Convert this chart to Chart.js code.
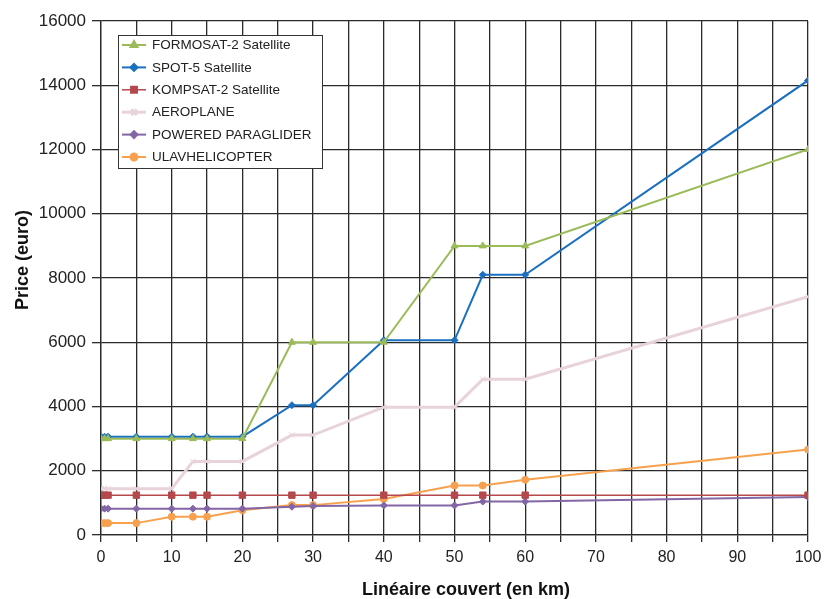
<!DOCTYPE html>
<html>
<head>
<meta charset="utf-8">
<script src="https://cdn.jsdelivr.net/npm/chart.js@4/dist/chart.umd.min.js"></script>
<style>
  body { margin: 0; background: #fff; }
  canvas { display: block; }
</style>
</head>
<body>
<canvas id="chart" width="825" height="599"></canvas>
<script>
// Distance covered (km) shared by every series
const km = [0, 0.5, 1, 5, 10, 13, 15, 20, 27, 30, 40, 50, 54, 60, 100];

// Prices in euro
const formosat = [3000, 3000, 3000, 3000, 3000, 3000, 3000, 3000, 6000, 6000, 6000, 9000, 9000, 9000, 12000];
const spot = [3060, 3060, 3060, 3060, 3060, 3060, 3060, 3060, 4040, 4040, 6060, 6060, 8100, 8100, 14150];
const kompsat = [1240, 1240, 1240, 1240, 1240, 1240, 1240, 1240, 1240, 1240, 1240, 1240, 1240, 1240, 1240];
const aeroplane = [1440, 1440, 1440, 1440, 1440, 2290, 2290, 2290, 3110, 3110, 3980, 3980, 4850, 4850, 7420];
const paraglider = [820, 820, 820, 820, 820, 820, 820, 820, 880, 900, 920, 920, 1040, 1040, 1180];
const ulav = [370, 370, 370, 370, 570, 570, 570, 770, 930, 930, 1120, 1540, 1540, 1720, 2660];

const seriesNames = ["FORMOSAT-2 Satellite", "SPOT-5 Satellite", "KOMPSAT-2 Satellite", "AEROPLANE", "POWERED PARAGLIDER", "ULAVHELICOPTER"];
const yTicks = [0, 2000, 4000, 6000, 8000, 10000, 12000, 14000, 16000];
const xTitle = "Linéaire couvert (en km)";
const yTitle = "Price (euro)";

const FONT = "'Liberation Sans', Arial, sans-serif";

function pts(values) {
  return km.map((x, i) => ({ x: x, y: values[i] }));
}

function series(label, values, color, style, radius, width) {
  return {
    label: label,
    data: pts(values),
    borderColor: color,
    backgroundColor: color,
    borderWidth: width,
    pointStyle: style,
    pointRadius: radius,
    pointBorderWidth: 1,
    pointHoverRadius: radius,
    tension: 0
  };
}

// draws the boxed legend inside the plot and the two axis titles
const decorations = {
  id: "decorations",
  afterDatasetsDraw(chart) {
    const ctx = chart.ctx;
    const area = chart.chartArea;
    const x0 = area.left + 17, y0 = area.top + 14;
    ctx.save();
    ctx.fillStyle = "#fff";
    ctx.fillRect(x0, y0, 204, 133);
    ctx.strokeStyle = "#333";
    ctx.lineWidth = 1;
    ctx.strokeRect(x0 + 0.5, y0 + 0.5, 204, 133);

    ctx.font = "13.5px " + FONT;
    ctx.textBaseline = "middle";
    chart.data.datasets.forEach((ds, i) => {
      const y = y0 + 10 + i * 22.4;
      ctx.strokeStyle = ds.borderColor;
      ctx.lineWidth = ds.borderWidth;
      ctx.beginPath();
      ctx.moveTo(x0 + 4, y);
      ctx.lineTo(x0 + 28, y);
      ctx.stroke();
      ctx.fillStyle = ds.backgroundColor;
      Chart.helpers.drawPoint(ctx, {
        pointStyle: ds.pointStyle,
        radius: ds.pointRadius,
        rotation: 0,
        borderWidth: 1
      }, x0 + 16, y);
      ctx.fillStyle = "#222";
      ctx.fillText(ds.label, x0 + 34, y + 0.5);
    });

    // axis titles
    ctx.fillStyle = "#111";
    ctx.font = "bold 18px " + FONT;
    ctx.textAlign = "center";
    ctx.textBaseline = "alphabetic";
    ctx.fillText(xTitle, 466, 595);
    ctx.translate(28, 260);
    ctx.rotate(-Math.PI / 2);
    ctx.fillText(yTitle, 0, 0);
    ctx.restore();
  }
};

const gridColor = "#2a2a2a";

new Chart(document.getElementById("chart"), {
  type: "line",
  data: {
    datasets: [
      series(seriesNames[0], formosat, "#9bbb59", "triangle", 4, 2),
      series(seriesNames[1], spot, "#1a6fc0", "rectRot", 3.5, 2),
      series(seriesNames[2], kompsat, "#b5484c", "rect", 4.5, 1.5),
      series(seriesNames[3], aeroplane, "#e9d3da", "crossRot", 4, 3),
      series(seriesNames[4], paraglider, "#8366a6", "rectRot", 3.5, 2),
      series(seriesNames[5], ulav, "#f7a04e", "circle", 3.5, 2)
    ]
  },
  options: {
    responsive: false,
    animation: false,
    layout: { padding: { top: 21, right: 17, left: 0, bottom: 0 } },
    plugins: {
      legend: { display: false },
      tooltip: { enabled: false }
    },
    scales: {
      x: {
        type: "linear",
        min: 0,
        max: 100,
        afterFit: scale => {
          scale.height = 64;
          scale.paddingLeft = 0;
          scale.paddingRight = 0;
        },
        ticks: {
          stepSize: 5,
          autoSkip: false,
          maxRotation: 0,
          padding: 6,
          color: "#222",
          font: { family: FONT, size: 16 },
          callback: v => (v % 10 === 0 ? String(v) : "")
        },
        grid: { color: gridColor, lineWidth: 1.3, tickLength: 7, tickColor: gridColor },
        border: { color: gridColor, width: 1.3 }
      },
      y: {
        min: 0,
        max: 16000,
        afterFit: scale => { scale.width = 101; },
        afterBuildTicks: scale => { scale.ticks = yTicks.map(v => ({ value: v })); },
        ticks: {
          padding: 6,
          color: "#222",
          font: { family: FONT, size: 17 },
          callback: v => String(v)
        },
        grid: { color: gridColor, lineWidth: 1.3, tickLength: 9, tickColor: gridColor },
        border: { color: gridColor, width: 1.3 }
      }
    }
  },
  plugins: [decorations]
});
</script>
</body>
</html>
